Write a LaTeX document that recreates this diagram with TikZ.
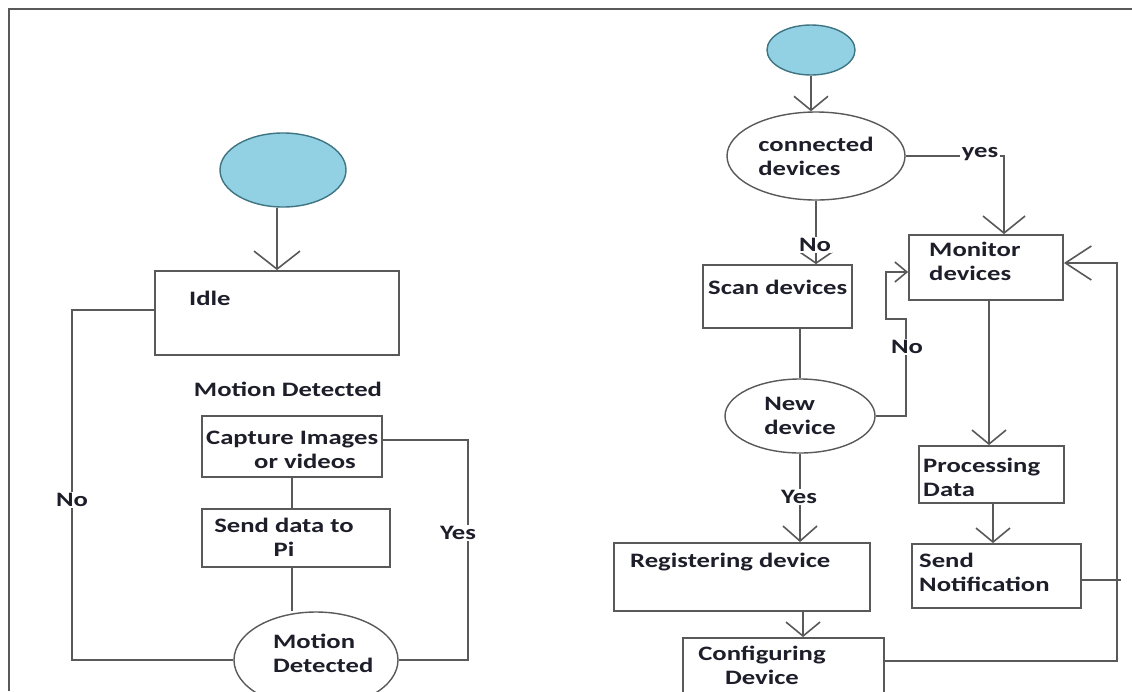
\documentclass[tikz,border=0pt]{standalone}
\usepackage{fontspec}
\setmainfont{Carlito}[FakeStretch=1.3]
\usetikzlibrary{arrows.meta,shapes.geometric,calc}
\definecolor{linegray}{HTML}{595959}
\definecolor{inkdark}{HTML}{1E1E2A}
\definecolor{startblue}{HTML}{92D0E3}
\definecolor{startedge}{HTML}{3F7482}
\begin{document}
\begin{tikzpicture}[x=1pt,y=-1pt,
  ln/.style={draw=linegray, line width=1.6pt},
  arr/.style={ln, -{Straight Barb[length=14pt,width=34pt]}},
  flowbox/.style={draw=linegray, line width=1.8pt, rectangle, inner sep=0pt},
  txt/.style={font=\bfseries\fontsize{20.5}{24}\selectfont, text=inkdark, inner sep=0pt, align=left},
  decision/.style={txt, draw=linegray, line width=1.4pt, ellipse},
  startnode/.style={ellipse, fill=startblue, draw=startedge, line width=1.4pt, inner sep=0pt},
  lbl/.style={txt, fill=white, inner sep=1.5pt}
]
\useasboundingbox (0,0) rectangle (1132,691);
\fill[white] (0,0) rectangle (1132,691);
% frame
\draw[ln, line width=2pt] (9,691) -- (9,9) -- (1132,9);

% ---------- motion detection flow ----------
\node[startnode, minimum width=126pt, minimum height=74pt] (s1) at (283,170) {};
\node[flowbox, minimum width=244pt, minimum height=84pt] (idle) at (277,313) {};
\node[txt, anchor=west] (idlet) at (189,298) {Idle};
\node[txt] (mdl) at (288,389) {Motion Detected};
\node[flowbox, minimum width=180pt, minimum height=61pt] (cap) at (292,446.5) {};
\node[txt, anchor=west] (capt) at (206,450) {Capture Images\\\hspace*{48pt}or videos};
\node[flowbox, minimum width=188pt, minimum height=58pt] (snd) at (296,538) {};
\node[txt, align=center] (sndt) at (284,537) {Send data to\\Pi};
\node[decision, minimum width=164pt, minimum height=96pt] (md) at (316,660) {};
\node[txt, anchor=west] (mdt) at (273,653) {Motion\\Detected};

\draw[arr, -{Straight Barb[length=18pt,width=46pt]}] (s1.south -| idle.north) -- (idle.north);
\draw[ln] (cap.south) -- (cap.south |- snd.north);
\draw[ln] (cap.south |- snd.south) -- (cap.south |- md.north);
\draw[ln] (idle.west |- 0,310) -- (72,310) -- (72,660) -- (md.west);
\node[lbl] (lno) at (72,500) {No};
\draw[ln] (cap.east |- 0,440) -- (468,440) -- (468,660) -- (md.east);
\node[lbl] (lyes) at (458,533) {Yes};

% ---------- device management flow ----------
\node[startnode, minimum width=88pt, minimum height=50pt] (s2) at (811,50) {};
\node[decision, minimum width=178pt, minimum height=88pt] (cd) at (816,156) {connected\\devices};
\draw[arr] (s2.south) -- (s2.south |- cd.north);

\node[flowbox, minimum width=149pt, minimum height=63pt] (scan) at (777.5,296.5) {};
\node[txt, anchor=west] (scant) at (708,287) {Scan devices};
\draw[arr, -{Straight Barb[length=11pt,width=32pt]}] (cd.south) -- (cd.south |- scan.north);
\node[lbl] (lno2) at (815,245) {No};

\node[flowbox, minimum width=154pt, minimum height=65pt] (mon) at (986,267.5) {};
\node[txt, anchor=west] (mont) at (929,261) {Monitor\\devices};
\draw[arr, -{Straight Barb[length=17pt,width=42pt]}] (cd.east) -| ($(mon.north)+(18,0)$);
\node[lbl] (lyes2) at (980,154) {yes};

\node[decision, minimum width=150pt, minimum height=74pt] (nd) at (800,416) {New\\device};
\draw[ln] (scan.south -| nd.north) -- (nd.north);
\draw[arr, -{Straight Barb[length=12pt,width=20pt]}] (nd.east) -- (906,416) -- (906,319) -- (886,319) -- (886,272) -- (mon.west |- 0,272);
\node[lbl] (lno3) at (907,347) {No};

\node[flowbox, minimum width=256pt, minimum height=68pt] (reg) at (742,577) {};
\node[txt, anchor=west] (regt) at (630,562) {Registering device};
\draw[arr, -{Straight Barb[length=15pt,width=34pt]}] (nd.south) -- (nd.south |- reg.north);
\node[lbl] (lyes3) at (799,497) {Yes};

\node[flowbox, minimum width=201pt, minimum height=67pt] (conf) at (783.5,671.5) {};
\node[txt, align=center] (conft) at (762,665) {Configuring\\Device};
\coordinate (rc) at ($(reg.south)+(61,0)$);
\draw[arr] (rc) -- (rc |- conf.north);

\node[flowbox, minimum width=145pt, minimum height=57pt] (proc) at (991.5,474.5) {};
\node[txt, anchor=west] (proct) at (923,477) {Processing\\Data};
\coordinate (pm) at ($(proc.north)+(-2.5,0)$);
\draw[arr] (pm |- mon.south) -- (pm);

\node[flowbox, minimum width=169pt, minimum height=64pt] (sn) at (996.5,576) {};
\node[txt, anchor=west] (snt) at (919,572) {Send\\Notification};
\coordinate (ps) at ($(proc.south)+(1.5,0)$);
\draw[arr] (ps) -- (ps |- sn.north);

\draw[arr, -{Straight Barb[length=26pt,width=34pt]}] (conf.east |- 0,661) -- (1117,661) -- (1117,263) -- (mon.east |- 0,263);
\draw[ln] (sn.east |- 0,580) -- (1121,580);
\end{tikzpicture}
\end{document}
